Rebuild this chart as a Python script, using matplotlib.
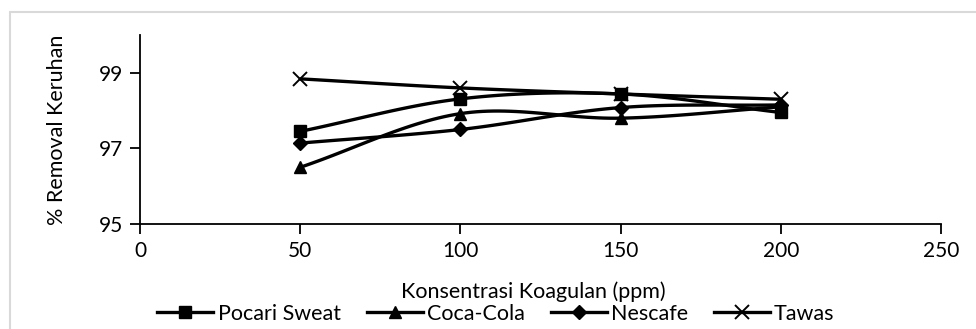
import numpy as np
import matplotlib
matplotlib.use("Agg")
import matplotlib.pyplot as plt
from matplotlib.patches import Rectangle

plt.rcParams['font.family'] = ['Lato', 'DejaVu Sans']

x_vals = [50, 100, 150, 200]
pocari = [97.45, 98.31, 98.44, 97.95]
coca = [96.5, 97.92, 97.8, 98.1]
nescafe = [97.14, 97.5, 98.08, 98.15]
tawas = [98.84, 98.6, 98.44, 98.3]
series_names = ['Pocari Sweat', 'Coca-Cola', 'Nescafe', 'Tawas']
markers = ['s', '^', 'D', 'x']
msizes = [9, 9, 7, 10]

def smooth(xs, ys, n=30):
    xs = np.asarray(xs, float); ys = np.asarray(ys, float)
    px = np.concatenate([[2*xs[0]-xs[1]], xs, [2*xs[-1]-xs[-2]]])
    py = np.concatenate([[2*ys[0]-ys[1]], ys, [2*ys[-1]-ys[-2]]])
    ox, oy = [], []
    for i in range(1, len(px)-2):
        t = np.linspace(0, 1, n)
        for P, out in ((px, ox), (py, oy)):
            p0, p1, p2, p3 = P[i-1], P[i], P[i+1], P[i+2]
            v = 0.5*((2*p1) + (-p0+p2)*t + (2*p0-5*p1+4*p2-p3)*t**2 + (-p0+3*p1-3*p2+p3)*t**3)
            out.extend(v)
    return np.array(ox), np.array(oy)

W, H = 976, 329
fig = plt.figure(figsize=(W/100, H/100), dpi=100)
fig.patches.append(Rectangle((10/W, -0.01), 1.0, 1-12/H+0.01, transform=fig.transFigure,
                             fill=False, edgecolor='#d9d9d9', lw=1.5))
ax = fig.add_axes([140/W, 1-224/H, 801/W, (224-35)/H])

data = [pocari, coca, nescafe, tawas]
handles = []
for name, ys, m, ms in zip(series_names, data, markers, msizes):
    sx, sy = smooth(x_vals, ys)
    ax.plot(sx, sy, color='black', lw=2.4, solid_capstyle='butt')
    mew = 1.4 if m == 'x' else 1
    ax.plot(x_vals, ys, linestyle='none', marker=m, ms=ms, mew=mew, color='black')
    h, = ax.plot([], [], color='black', lw=2.4, marker=m, ms=ms, mew=mew, label=name)
    handles.append(h)

ax.set_xlim(0, 250)
ax.set_ylim(95, 100)
ax.set_xticks([0, 50, 100, 150, 200, 250])
ax.set_yticks([95, 97, 99])
for s in ['top', 'right']:
    ax.spines[s].set_visible(False)
for s in ['left', 'bottom']:
    ax.spines[s].set_linewidth(1.3)
ax.tick_params(direction='out', length=7, width=1.3, labelsize=15, colors='black', pad=5)
ax.set_ylabel('% Removal Keruhan', fontsize=15.5)
ax.yaxis.set_label_coords((67-140)/801, 0.5)

fig.text(533/W, 1-292/H, 'Konsentrasi Koagulan (ppm)', fontsize=15.5, ha='center', va='center')
fig.legend(handles=handles, loc='center', bbox_to_anchor=(496/W, 1-314/H), ncol=4, frameon=False,
           fontsize=15.5, handlelength=2.6, handletextpad=0.2, columnspacing=1.2,
           borderpad=0, borderaxespad=0)

fig.savefig('out.png', dpi=100)
